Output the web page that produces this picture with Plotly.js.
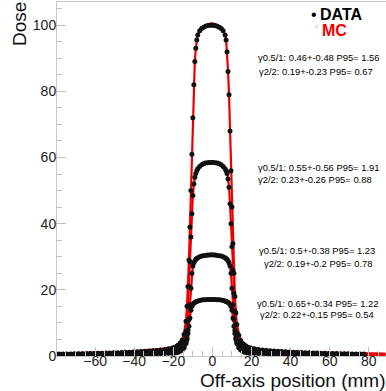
<!DOCTYPE html>
<html>
<head>
<meta charset="utf-8">
<script src="https://cdn.plot.ly/plotly-3.0.1.min.js"></script>
<style>html,body{margin:0;padding:0;background:#fff;}#chart{width:386px;height:391px;}</style>
</head>
<body>
<div id="chart"></div>
<script>
// ---------- DATA (measured points) ----------
var dataPos = [-78.5,-76.5,-74.5,-72.5,-70.5,-68.5,-66.5,-64.5,-62.5,-60.5,-58.5,-56.5,-54.5,-52.5,-50.5,-48.5,-46.5,-44.5,-42.5,-40.5,-38.5,-36.5,-34.5,-32.5,-30.5,-28.5,-26.5,-24.5,-22.5,
  -20.5,-19.5,-18.5,-17.5,-16.5,-15.5,-14.5,-13.5,
  -13,-12.5,-12,-11.5,-11,-10.5,-10,-9.5,-9,-8.5,-8,-7.5,
  -6.5,-5.5,-4.5,-3.5,-2.5,-1.5,
  -0.5,
  0.5,1.5,2.5,3.5,4.5,5.5,
  6.5,7,7.5,8,8.5,9,9.5,10,10.5,11,11.5,12,
  12.5,13.5,14.5,15.5,16.5,17.5,18.5,19.5,
  21.5,23.5,25.5,27.5,29.5,31.5,33.5,35.5,37.5,39.5,41.5,43.5,45.5,47.5,49.5,51.5,53.5,55.5,57.5,59.5,61.5,63.5,65.5,67.5,69.5,71.5,73.5,75.5,77.5];

var dataDose1 = [0.58,0.6,0.62,0.64,0.66,0.68,0.7,0.73,0.76,0.79,0.82,0.85,0.88,0.92,0.96,1.0,1.05,1.1,1.16,1.22,1.28,1.35,1.42,1.5,1.6,1.7,1.85,2.0,2.2,
  2.4,2.6,2.9,3.3,3.9,4.8,6.5,10.5,
  15,21,29,39,50,61,72,82,89,93,95.5,97,
  98.3,99,99.4,99.7,99.9,100,
  100,
  100,99.9,99.7,99.4,99,98.3,
  97,95.5,92,86,79,68,56,45,34,25,18,13,
  9.5,6.3,4.7,3.8,3.3,2.9,2.6,2.4,
  2.2,2.0,1.85,1.7,1.6,1.5,1.42,1.35,1.28,1.22,1.16,1.1,1.05,1.0,0.96,0.92,0.88,0.85,0.82,0.79,0.76,0.73,0.7,0.68,0.66,0.64,0.62,0.6,0.58];

var dataDose2 = [0.44,0.45,0.47,0.48,0.5,0.51,0.53,0.55,0.57,0.59,0.62,0.64,0.66,0.69,0.72,0.75,0.79,0.83,0.87,0.92,0.96,1.0,1.06,1.12,1.2,1.28,1.4,1.5,1.65,
  1.75,1.9,2.1,2.4,2.8,3.4,4.6,7.5,
  10.5,15,21,28.5,36,43,48.5,52,54,55.2,56,56.6,
  57.3,57.8,58.1,58.3,58.4,58.5,
  58.5,
  58.5,58.4,58.3,58.1,57.8,57.3,
  56.6,56,55.2,53.5,51,46,40,33,26,19,13.5,9.5,
  7,4.4,3.3,2.7,2.3,2.0,1.85,1.7,
  1.65,1.5,1.4,1.28,1.2,1.12,1.06,1.0,0.96,0.92,0.87,0.83,0.79,0.75,0.72,0.69,0.66,0.64,0.62,0.59,0.57,0.55,0.53,0.51,0.5,0.48,0.47,0.45,0.44];

var dataDose3 = [0.32,0.33,0.34,0.35,0.36,0.37,0.38,0.39,0.4,0.41,0.42,0.44,0.46,0.48,0.5,0.52,0.54,0.56,0.59,0.62,0.65,0.68,0.72,0.76,0.8,0.85,0.9,0.95,1.0,
  1.1,1.2,1.3,1.45,1.7,2.1,2.8,4.2,
  5.6,7.8,11,15.5,20.5,25,27.2,28.2,28.8,29.2,29.5,29.7,
  30.0,30.2,30.3,30.4,30.5,30.5,
  30.6,
  30.5,30.5,30.4,30.3,30.2,30.0,
  29.7,29.5,29.2,28.8,28.2,27.2,25,20.5,15.5,11,7.8,5.6,
  4.2,2.8,2.1,1.7,1.45,1.3,1.2,1.1,
  1.0,0.95,0.9,0.85,0.8,0.76,0.72,0.68,0.65,0.62,0.59,0.56,0.54,0.52,0.5,0.48,0.46,0.44,0.42,0.41,0.4,0.39,0.38,0.37,0.36,0.35,0.34,0.33,0.32];

var dataDose4 = [0.25,0.26,0.27,0.28,0.29,0.3,0.31,0.32,0.33,0.34,0.35,0.36,0.38,0.39,0.4,0.42,0.44,0.46,0.48,0.5,0.52,0.54,0.57,0.6,0.64,0.68,0.72,0.76,0.8,
  0.85,0.9,1.0,1.15,1.4,1.8,2.5,3.8,
  5.0,6.8,9,11.5,13.8,15,15.6,16,16.2,16.4,16.5,16.6,
  16.8,16.9,17,17,17.1,17.1,
  17.1,
  17.1,17.1,17,17,16.9,16.8,
  16.6,16.5,16.4,16.2,16,15.6,15,13.8,11.5,9,6.8,5.0,
  3.8,2.5,1.8,1.4,1.15,1.0,0.9,0.85,
  0.8,0.76,0.72,0.68,0.64,0.6,0.57,0.54,0.52,0.5,0.48,0.46,0.44,0.42,0.4,0.39,0.38,0.36,0.35,0.34,0.33,0.32,0.31,0.3,0.29,0.28,0.27,0.26,0.25];

// ---------- MC (simulation) ----------
var mcPos = [-80,-72.5,-64.5,-56.5,-48.5,-40.5,-36.5,-32.5,-28.5,-24.5,
  -20.5,-19.5,-18.5,-17.5,-16.5,-15.5,-14.5,-13.5,
  -13,-12.5,-12,-11.5,-11,-10.5,-10,-9.5,-9,-8.5,-8,-7.5,
  -6.5,-5.5,-4.5,-3.5,-2.5,-1.5,
  -0.5,
  0.5,1.5,2.5,3.5,4.5,5.5,
  6.5,7,7.5,8,8.5,9,9.5,10,10.5,11,11.5,12,
  12.5,13.5,14.5,15.5,16.5,17.5,18.5,19.5,
  23.5,27.5,31.5,35.5,39.5,47.5,55.5,63.5,71.5,79.5,88.5];

var mcDose1 = [0.8,0.85,0.95,1.05,1.2,1.4,1.55,1.7,1.9,2.2,
  2.6,2.8,3.1,3.5,4.1,5.0,6.8,10.8,
  15.2,21,29,39,50,61,72,82,89,93,95.6,97.1,
  98.4,99.1,99.5,99.8,100.1,100.4,
  100.6,
  100.4,100.1,99.8,99.5,99.1,98.4,
  97.1,95.6,92.2,86.2,79,68,56,45,34,25,18,13.2,
  9.8,6.8,5.0,4.1,3.5,3.1,2.8,2.6,
  2.2,1.9,1.7,1.55,1.4,1.2,1.05,0.95,0.85,0.8,0.75];

var mcDose2 = [0.6,0.65,0.72,0.8,0.9,1.05,1.15,1.28,1.45,1.65,
  1.9,2.05,2.3,2.6,3.0,3.6,4.8,7.7,
  10.7,15.2,21,28.5,36,43,48.5,52,54,55.2,56,56.7,
  57.3,57.8,58.1,58.3,58.5,58.6,
  58.6,
  58.6,58.5,58.3,58.1,57.8,57.3,
  56.7,56,55.2,53.5,51,46,40,33,26,19,13.7,9.7,
  7.2,4.6,3.5,2.9,2.5,2.2,2.0,1.9,
  1.65,1.45,1.28,1.15,1.05,0.9,0.8,0.72,0.65,0.6,0.56];

var mcDose3 = [0.42,0.45,0.5,0.55,0.62,0.72,0.8,0.88,1.0,1.12,
  1.25,1.35,1.45,1.6,1.85,2.3,3.0,4.4,
  5.8,8,11.2,15.6,20.5,25,27.3,28.3,28.9,29.3,29.6,29.8,
  30.1,30.3,30.4,30.5,30.6,30.6,
  30.6,
  30.6,30.6,30.5,30.4,30.3,30.1,
  29.8,29.6,29.3,28.9,28.3,27.3,25,20.5,15.6,11.2,8,5.8,
  4.4,3.0,2.3,1.85,1.6,1.45,1.35,1.25,
  1.12,1.0,0.88,0.8,0.72,0.62,0.55,0.5,0.45,0.42,0.4];

var mcDose4 = [0.33,0.36,0.4,0.44,0.5,0.58,0.64,0.7,0.78,0.88,
  0.95,1.02,1.12,1.28,1.52,1.95,2.65,3.95,
  5.2,7,9.2,11.6,13.9,15.1,15.7,16.1,16.3,16.5,16.6,16.7,
  16.9,17,17.1,17.1,17.2,17.2,
  17.2,
  17.2,17.2,17.1,17.1,17,16.9,
  16.7,16.6,16.5,16.3,16.1,15.7,15.1,13.9,11.6,9.2,7,5.2,
  3.95,2.65,1.95,1.52,1.28,1.12,1.02,0.95,
  0.88,0.78,0.7,0.64,0.58,0.5,0.44,0.4,0.36,0.33,0.31];

// ---------- labels ----------
var gammaLines = [
  "γ0.5/1: 0.46+-0.48 P95= 1.56", "γ2/2: 0.19+-0.23 P95= 0.67",
  "γ0.5/1: 0.55+-0.56 P95= 1.91", "γ2/2: 0.23+-0.26 P95= 0.88",
  "γ0.5/1: 0.5+-0.38 P95= 1.23",  "γ2/2: 0.19+-0.2 P95= 0.78",
  "γ0.5/1: 0.65+-0.34 P95= 1.22", "γ2/2: 0.22+-0.15 P95= 0.54"
];
var xTitle = "Off-axis position (mm)";
var yTitle = "Dose";
var legendNames = ["DATA", "MC"];

// ---------- geometry helpers (pixel -> paper) ----------
var L = 57, T = 2, W = 386, H = 391, PW = 329, PH = 354;
function px(x) { return (x - L) / PW; }
function py(y) { return (T + PH - y) / PH; }

var FONT = "Liberation Sans, Arial, sans-serif";
var traces = [];
var mcSets = [mcDose1, mcDose2, mcDose3, mcDose4];
var dataSets = [dataDose1, dataDose2, dataDose3, dataDose4];
mcSets.forEach(function (ys) {
  traces.push({x: mcPos, y: ys, type: 'scatter', mode: 'lines',
    line: {color: 'rgb(235,0,0)', width: 2.2}, showlegend: false, hoverinfo: 'skip'});
});
dataSets.forEach(function (ys) {
  traces.push({x: dataPos, y: ys, type: 'scatter', mode: 'markers',
    marker: {color: '#111', size: 5, symbol: 'circle'}, showlegend: false, hoverinfo: 'skip'});
});

var gammaPos = [[256, 58], [257, 71], [256, 167], [256, 180], [257, 250], [262, 263], [255, 303], [258, 314]];
var annotations = gammaLines.map(function (t, i) {
  return {text: t, xref: 'paper', yref: 'paper', x: px(gammaPos[i][0]), y: py(gammaPos[i][1]),
    xanchor: 'left', yanchor: 'middle', showarrow: false,
    font: {family: FONT, size: 9.4, color: '#000'}};
});
annotations.push({text: xTitle, xref: 'paper', yref: 'paper', x: px(387), y: py(380),
  xanchor: 'right', yanchor: 'middle', showarrow: false, font: {family: FONT, size: 19, color: '#111'}});
annotations.push({text: yTitle, xref: 'paper', yref: 'paper', x: px(20), y: py(24),
  xanchor: 'center', yanchor: 'middle', textangle: -90, showarrow: false, font: {family: FONT, size: 19, color: '#111'}});
annotations.push({text: '•', xref: 'paper', yref: 'paper', x: px(313.5), y: py(14),
  xanchor: 'center', yanchor: 'middle', showarrow: false, font: {family: FONT, size: 16, color: '#000'}});
annotations.push({text: '<b>' + legendNames[0] + '</b>', xref: 'paper', yref: 'paper', x: px(318), y: py(14),
  xanchor: 'left', yanchor: 'middle', showarrow: false, font: {family: FONT, size: 16, color: '#000'}});
annotations.push({text: '▿', xref: 'paper', yref: 'paper', x: px(317), y: py(26),
  xanchor: 'center', yanchor: 'middle', showarrow: false, font: {family: FONT, size: 7, color: '#ff8080'}});
annotations.push({text: '<b>' + legendNames[1] + '</b>', xref: 'paper', yref: 'paper', x: px(320), y: py(31),
  xanchor: 'left', yanchor: 'middle', showarrow: false, font: {family: FONT, size: 16, color: '#f00000'}});

var axisCommon = {
  showline: true, linecolor: '#c8c8c8', linewidth: 1,
  ticks: 'inside', tickcolor: '#c0c0c0', tickwidth: 1,
  showgrid: false, zeroline: false,
  tickfont: {family: FONT, size: 14, color: '#222'}
};

var layout = {
  width: W, height: H,
  margin: {l: L, r: W - L - PW, t: T, b: H - T - PH, pad: 0},
  paper_bgcolor: '#fff', plot_bgcolor: '#fff',
  showlegend: false,
  xaxis: Object.assign({}, axisCommon, {
    range: [-79.5, 88.8], tickmode: 'linear', tick0: 0, dtick: 20, ticklen: 9, mirror: true,
    ticklabelstandoff: -8,
    minor: {dtick: 5, ticklen: 5, ticks: 'inside', tickcolor: '#c0c0c0'}
  }),
  yaxis: Object.assign({}, axisCommon, {
    range: [0, 107], tickmode: 'linear', tick0: 0, dtick: 20, ticklen: 9,
    ticklabelstandoff: -3,
    minor: {dtick: 5, ticklen: 5, ticks: 'inside', tickcolor: '#c0c0c0'}
  }),
  annotations: annotations
};

Plotly.newPlot('chart', traces, layout, {staticPlot: true, displayModeBar: false});
</script>
</body>
</html>
